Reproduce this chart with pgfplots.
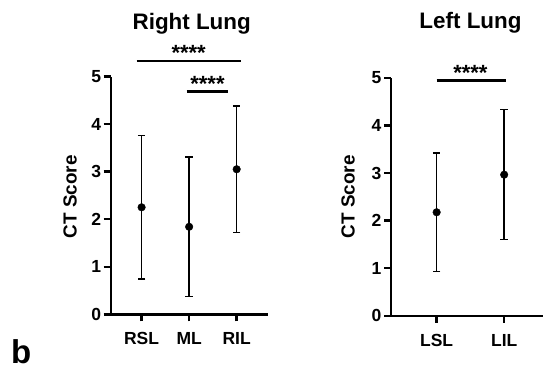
\documentclass[border=0pt]{standalone}
\usepackage{fontspec}
\setmainfont{Liberation Sans}
\usepackage{pgfplots}
\pgfplotsset{compat=1.18}
\begin{document}
\begin{tikzpicture}
\useasboundingbox (0pt,0pt) rectangle (543pt,370pt);
\pgfplotsset{myax/.style={
  scale only axis, height=237.8pt,
  ymin=0, ymax=5, ytick={0,1,2,3,4,5},
  yticklabels={\textbf{0},\textbf{1},\textbf{2},\textbf{3},\textbf{4},\textbf{5}},
  axis lines=left, axis line style={-, line width=2.4pt, black},
  tick align=outside, major tick length=7pt,
  tick style={line width=2.4pt, black},
  clip=false,
  tick label style={font=\fontsize{17.5}{18}\selectfont\bfseries},
  yticklabel style={inner sep=2.5pt},
  xticklabel style={text height=13pt, text depth=0pt, yshift=-7pt},
  error bars/error bar style={line width=1.4pt, black},
  error bars/error mark options={rotate=90, mark size=3.8pt, line width=1.4pt, black},
}}
% Right lung
\begin{axis}[myax, at={(110.7pt,55.7pt)}, anchor=south west, width=157.6pt,
  xmin=0.35, xmax=3.665, xtick={1,2,3},
  xticklabels={RSL,ML,RIL}]
\addplot[only marks, mark=*, mark size=3.8pt, black,
  error bars/.cd, y dir=both, y explicit]
  coordinates {(1,2.25) +- (0,1.51) (2,1.84) +- (0,1.47) (3,3.05) +- (0,1.33)};
\draw[line width=2.6pt] (axis cs:0.895,5.33) -- (axis cs:3.084,5.33);
\draw[line width=2.6pt] (axis cs:1.947,4.69) -- (axis cs:2.823,4.69);
\node[anchor=south, inner sep=0pt, font=\fontsize{22}{24}\selectfont\bfseries] at (axis cs:1.99,5.33) {****};
\node[anchor=south, inner sep=0pt, font=\fontsize{22}{24}\selectfont\bfseries] at (axis cs:2.385,4.69) {****};
\end{axis}
% Left lung
\begin{axis}[myax, at={(391pt,54.3pt)}, anchor=south west, width=152pt,
  xmin=0.324, xmax=2.575, xtick={1,2},
  xticklabels={LSL,LIL}]
\addplot[only marks, mark=*, mark size=3.8pt, black,
  error bars/.cd, y dir=both, y explicit]
  coordinates {(1,2.175) +- (0,1.245) (2,2.965) +- (0,1.365)};
\draw[line width=2.6pt] (axis cs:1.0,4.95) -- (axis cs:2.02,4.95);
\node[anchor=south, inner sep=0pt, font=\fontsize{22}{24}\selectfont\bfseries] at (axis cs:1.5,4.95) {****};
\end{axis}
\node[anchor=base, font=\fontsize{22.4}{24}\selectfont\bfseries] at (191.7pt,340.7pt) {Right Lung};
\node[anchor=base, font=\fontsize{22.4}{24}\selectfont\bfseries] at (470.5pt,341pt) {Left Lung};
\node[rotate=90, font=\fontsize{18.9}{20}\selectfont\bfseries] at (70pt,173.3pt) {CT Score};
\node[rotate=90, font=\fontsize{18.9}{20}\selectfont\bfseries] at (348pt,173.3pt) {CT Score};
\node[anchor=base west, inner sep=0pt, font=\fontsize{33}{36}\selectfont\bfseries] at (11pt,7pt) {b};
\end{tikzpicture}
\end{document}
